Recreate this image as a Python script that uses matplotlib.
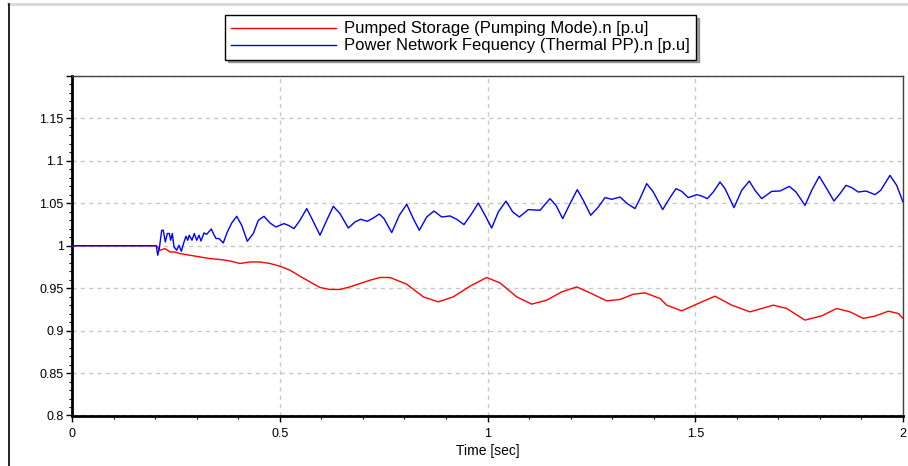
import numpy as np
import matplotlib
matplotlib.use('Agg')
import matplotlib.pyplot as plt
from matplotlib.lines import Line2D
from matplotlib.ticker import MultipleLocator, FuncFormatter

plt.rcParams['font.family'] = ['Liberation Sans Narrow', 'Liberation Sans', 'DejaVu Sans']

# Pumped Storage (Pumping Mode).n [p.u]  (red)
t_pump = [0.0, 0.203, 0.2118, 0.2238, 0.2359, 0.2479, 0.2599, 0.284, 0.3081, 0.3321,
          0.3562, 0.3803, 0.4043, 0.4284, 0.4525, 0.4765, 0.5006, 0.5247, 0.5487, 0.5728,
          0.5969, 0.6209, 0.645, 0.6691, 0.6931, 0.7172, 0.7413, 0.7653, 0.8056, 0.8455,
          0.8816, 0.9177, 0.9579, 0.9981, 1.0301, 1.0703, 1.1064, 1.1425, 1.1786, 1.2147,
          1.2467, 1.2869, 1.3189, 1.3509, 1.3791, 1.4152, 1.4313, 1.4674, 1.5035, 1.5475,
          1.5877, 1.6318, 1.6878, 1.7201, 1.7641, 1.8043, 1.8404, 1.8724, 1.9045, 1.9326,
          1.9646, 1.9887, 2.0]
n_pump = [1.0, 1.0, 0.9947, 0.9967, 0.9927, 0.9927, 0.9908, 0.9888, 0.9868, 0.9849,
          0.9838, 0.9821, 0.9791, 0.9809, 0.9809, 0.9791, 0.9759, 0.9712, 0.9641, 0.9574,
          0.9508, 0.9485, 0.9485, 0.9515, 0.9555, 0.9594, 0.9626, 0.9626, 0.9547, 0.9398,
          0.9339, 0.9398, 0.9524, 0.9626, 0.9562, 0.9398, 0.9312, 0.9359, 0.9456, 0.9515,
          0.9445, 0.9351, 0.9367, 0.9429, 0.9445, 0.9379, 0.93, 0.9233, 0.9312, 0.9406,
          0.93, 0.9221, 0.93, 0.9261, 0.9124, 0.9174, 0.9261, 0.9221, 0.9144, 0.9171,
          0.9229, 0.9202, 0.9144]

# Power Network Fequency (Thermal PP).n [p.u]  (blue)
t_net = [0.0, 0.203, 0.2063, 0.2101, 0.2159, 0.2197, 0.2245, 0.2294, 0.2342, 0.2375,
         0.2414, 0.2455, 0.252, 0.2575, 0.2631, 0.2696, 0.2744, 0.2785, 0.2823, 0.2888,
         0.2943, 0.3001, 0.3057, 0.3105, 0.3177, 0.3242, 0.329, 0.3353, 0.3401, 0.3466,
         0.3538, 0.3641, 0.3738, 0.3844, 0.3964, 0.4084, 0.4219, 0.4363, 0.4484, 0.4621,
         0.4765, 0.491, 0.5102, 0.5206, 0.5343, 0.5487, 0.5649, 0.5793, 0.5969, 0.613,
         0.6289, 0.645, 0.665, 0.6811, 0.6948, 0.7107, 0.7252, 0.7396, 0.7509, 0.7695,
         0.7877, 0.8056, 0.8214, 0.8359, 0.8537, 0.8712, 0.8898, 0.9098, 0.9259, 0.9434,
         0.962, 0.9779, 0.994, 1.0101, 1.026, 1.0445, 1.0607, 1.0765, 1.0982, 1.1264,
         1.1504, 1.1649, 1.181, 1.1986, 1.2161, 1.2306, 1.2484, 1.2667, 1.2828, 1.299,
         1.3189, 1.3365, 1.355, 1.367, 1.3832, 1.399, 1.4217, 1.4376, 1.4537, 1.4674,
         1.4833, 1.5035, 1.5155, 1.529, 1.5434, 1.5596, 1.5716, 1.5933, 1.6118, 1.6301,
         1.6438, 1.66, 1.684, 1.704, 1.7264, 1.7425, 1.7642, 1.7803, 1.7986, 1.8164,
         1.8339, 1.8484, 1.8628, 1.8765, 1.8924, 1.911, 1.9326, 1.9463, 1.9687, 1.9848,
         2.0]
n_net = [1.0, 1.0, 0.9888, 0.9967, 1.0182, 1.0182, 1.0045, 1.0144, 1.0144, 1.0065,
         1.0144, 0.9986, 0.9947, 1.0006, 0.9935, 1.0045, 1.0112, 1.0065, 1.0124, 1.0065,
         1.0144, 1.0065, 1.0124, 1.0056, 1.0151, 1.0135, 1.0162, 1.0198, 1.0144, 1.0085,
         1.0085, 1.0033, 1.0162, 1.0268, 1.0347, 1.0241, 1.0053, 1.0144, 1.03, 1.0347,
         1.0268, 1.0221, 1.0261, 1.0241, 1.0202, 1.03, 1.0438, 1.03, 1.0124, 1.03,
         1.0465, 1.0379, 1.0209, 1.028, 1.0312, 1.0288, 1.0327, 1.0374, 1.032, 1.0155,
         1.0359, 1.0488, 1.032, 1.0182, 1.0339, 1.0409, 1.0339, 1.0351, 1.0312, 1.0249,
         1.0379, 1.0504, 1.0359, 1.0209, 1.0398, 1.0527, 1.0398, 1.0339, 1.0426, 1.0418,
         1.0555, 1.0476, 1.032, 1.0496, 1.0661, 1.0535, 1.0359, 1.0456, 1.0567, 1.0547,
         1.0574, 1.0496, 1.0438, 1.0555, 1.0732, 1.0633, 1.0426, 1.0555, 1.0673, 1.0641,
         1.0567, 1.0602, 1.0586, 1.0555, 1.0633, 1.0751, 1.0673, 1.0449, 1.0653, 1.0762,
         1.0653, 1.0555, 1.0641, 1.0645, 1.07, 1.0633, 1.0476, 1.0653, 1.0818, 1.0673,
         1.0527, 1.0614, 1.0712, 1.0685, 1.0633, 1.0645, 1.0602, 1.0653, 1.0829, 1.0712,
         1.0515]

labels = ['Pumped Storage (Pumping Mode).n [p.u]',
          'Power Network Fequency (Thermal PP).n [p.u]']

fig = plt.figure(figsize=(9.08, 4.66), dpi=100)
ax = fig.add_axes([72 / 908, 1 - 415.5 / 466, 831 / 908, 339.5 / 466])

ax.plot(t_pump, n_pump, color='#ff0000', lw=1.0, label=labels[0], zorder=3)
ax.plot(t_net, n_net, color='#0000ff', lw=1.0, label=labels[1], zorder=4)

ax.set_xlim(0, 2)
ax.set_ylim(0.8, 1.2)

# ticks
ax.xaxis.set_major_locator(MultipleLocator(0.5))
ax.xaxis.set_minor_locator(MultipleLocator(0.1))
ax.yaxis.set_major_locator(MultipleLocator(0.05))
ax.yaxis.set_minor_locator(MultipleLocator(0.01))
fmt = FuncFormatter(lambda v, p: '' if v > 1.17 else '%g' % round(v, 2))
ax.yaxis.set_major_formatter(fmt)
ax.xaxis.set_major_formatter(FuncFormatter(lambda v, p: '%g' % round(v, 2)))
ax.tick_params(which='major', direction='out', length=4, width=1, labelsize=9, pad=2)
ax.tick_params(which='minor', direction='out', length=2, width=0.8)
ax.tick_params(axis='x', which='major', pad=5)

ax.grid(True, which='major', color='#c8c8c8', linestyle=(0, (3, 3)), lw=1.0)

# spines
ax.spines['left'].set_linewidth(2.0)
ax.spines['bottom'].set_linewidth(2.0)
ax.spines['top'].set_linewidth(1.0)
ax.spines['right'].set_linewidth(1.0)
ax.spines['top'].set_color('#404040')
ax.spines['right'].set_color('#404040')

ax.set_xlabel('Time [sec]', fontsize=10, labelpad=3)

leg = fig.legend(loc='upper left', bbox_to_anchor=(225 / 908, 1 - 15 / 466),
                 frameon=True, fancybox=False, shadow=True, handlelength=6.3,
                 handletextpad=0.45, labelspacing=0.12, borderpad=0.38, borderaxespad=0,
                 prop={'family': ['Liberation Sans', 'DejaVu Sans'], 'size': 12})
leg.get_frame().set_edgecolor('black')
leg.get_frame().set_linewidth(1.0)

# window frame lines
fig.add_artist(Line2D([8 / 908, 1], [1 - 4 / 466, 1 - 4 / 466], color='#d8d8d8', lw=2))
fig.add_artist(Line2D([8.5 / 908, 8.5 / 908], [0, 1 - 4 / 466], color='black', lw=1.2))

fig.savefig('out.png', dpi=100)
